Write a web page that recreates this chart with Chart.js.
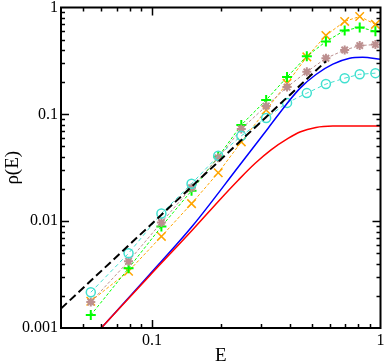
<!DOCTYPE html>
<html>
<head>
<meta charset="utf-8">
<script src="https://cdn.jsdelivr.net/npm/chart.js@4.4.1/dist/chart.umd.min.js"></script>
<style>
  body { margin: 0; background: #fff; }
  #wrap { width: 388px; height: 363px; }
</style>
</head>
<body>
<div id="wrap"><canvas id="rhoChart"></canvas></div>
<script>
// sampled energies of the marker series
const energy = [0.054, 0.079, 0.11, 0.149, 0.195, 0.246, 0.316, 0.39, 0.476, 0.577, 0.697, 0.811, 0.95];
const rhoCircle = [0.00216, 0.0050, 0.0118, 0.0224, 0.0409, 0.0629, 0.0925, 0.128, 0.158, 0.192, 0.218, 0.237, 0.243];
const rhoStar = [0.00175, 0.00421, 0.00972, 0.0206, 0.0392, 0.073, 0.1196, 0.18, 0.25, 0.335, 0.40, 0.44, 0.45];
const rhoPlus = [0.00132, 0.00362, 0.0089, 0.0193, 0.040, 0.0796, 0.136, 0.223, 0.35, 0.48, 0.61, 0.651, 0.60];
const rhoCross = [0.00178, 0.0034, 0.0072, 0.0146, 0.0284, 0.0552, 0.1097, 0.195, 0.345, 0.548, 0.741, 0.824, 0.695];

// E^2 guide line (end points)
const guideE = [0.04, 0.577];
const guideRho = [0.00152, 0.314];

// smooth curves
const blueE = [0.06, 0.097, 0.151, 0.239, 0.323, 0.394, 0.444, 0.522, 0.619, 0.733, 0.835, 1.0];
const blueRho = [0.001, 0.00312, 0.0091, 0.0323, 0.0746, 0.130, 0.175, 0.236, 0.295, 0.335, 0.342, 0.328];
const redE = [0.06, 0.097, 0.151, 0.2015, 0.239, 0.283, 0.332, 0.394, 0.444, 0.522, 0.619, 0.8, 1.0];
const redRho = [0.001, 0.00304, 0.00836, 0.0165, 0.0243, 0.0348, 0.0465, 0.0595, 0.0683, 0.0753, 0.0776, 0.0779, 0.0779];

const xTickVals = [0.1, 1];
const xTickLabels = ['0.1', '1'];
const yTickVals = [0.001, 0.01, 0.1, 1];
const yTickLabels = ['0.001', '0.01', '0.1', '1'];

const pts = (xs, ys) => xs.map((x, i) => ({x: x, y: ys[i]}));
const labelOf = (v, vals, labels) => {
    const i = vals.findIndex(t => Math.abs(v - t) < t * 1e-6);
    return i >= 0 ? labels[i] : '';
};

function markerSet(label, ys, color, style, radius, width, dash) {
    return {
        label: label,
        data: pts(energy, ys),
        borderColor: color,
        backgroundColor: 'rgba(0,0,0,0)',
        borderWidth: 1,
        borderDash: dash,
        pointStyle: style,
        pointRadius: radius,
        pointBorderWidth: width,
        pointBorderColor: color,
        pointBackgroundColor: 'rgba(0,0,0,0)',
        tension: 0
    };
}

// frame and inward ticks on all four sides
const frameTicks = {
    id: 'frameTicks',
    afterDatasetsDraw(chart) {
        const {ctx, chartArea: a, scales} = chart;
        ctx.save();
        ctx.strokeStyle = '#000';
        ctx.lineWidth = 1.5;
        const decades = (min, max) => {
            const out = [];
            for (let d = Math.floor(Math.log10(min)); d <= Math.ceil(Math.log10(max)); d++) {
                for (let k = 1; k <= 9; k++) {
                    const v = k * Math.pow(10, d);
                    if (v > min * 1.0001 && v < max * 0.9999) out.push({v: v, major: k === 1});
                }
            }
            return out;
        };
        ctx.beginPath();
        decades(scales.x.min, scales.x.max).forEach(t => {
            const px = Math.round(scales.x.getPixelForValue(t.v)) + 0.5;
            const len = t.major ? 8 : 4;
            ctx.moveTo(px, a.bottom); ctx.lineTo(px, a.bottom - len);
            ctx.moveTo(px, a.top); ctx.lineTo(px, a.top + len);
        });
        decades(scales.y.min, scales.y.max).forEach(t => {
            const py = Math.round(scales.y.getPixelForValue(t.v)) + 0.5;
            const len = t.major ? 8 : 4;
            ctx.moveTo(a.left, py); ctx.lineTo(a.left + len, py);
            ctx.moveTo(a.right, py); ctx.lineTo(a.right - len, py);
        });
        ctx.stroke();
        ctx.lineWidth = 2;
        ctx.strokeRect(a.left, a.top, a.right - a.left, a.bottom - a.top);
        ctx.restore();
    }
};

const serif = '"Liberation Serif", "DejaVu Serif", serif';

new Chart(document.getElementById('rhoChart'), {
    type: 'line',
    data: {
        datasets: [
            {
                label: 'red',
                data: pts(redE, redRho),
                borderColor: '#ff0000',
                borderWidth: 1.5,
                pointRadius: 0,
                cubicInterpolationMode: 'monotone'
            },
            {
                label: 'blue',
                data: pts(blueE, blueRho),
                borderColor: '#0000ff',
                borderWidth: 1.5,
                pointRadius: 0,
                cubicInterpolationMode: 'monotone'
            },
            {
                label: 'E^2',
                data: pts(guideE, guideRho),
                borderColor: '#000000',
                borderWidth: 2,
                borderDash: [8, 4],
                pointRadius: 0,
                tension: 0
            },
            markerSet('circles', rhoCircle, '#40e0d0', 'circle', 4.5, 1.5, [4, 3]),
            markerSet('stars', rhoStar, '#bc8f8f', 'star', 4.5, 2, [3, 2]),
            markerSet('plus', rhoPlus, '#00ff00', 'cross', 5, 2, [3, 2]),
            markerSet('cross', rhoCross, '#ffa500', 'crossRot', 6, 1.5, [3, 2])
        ]
    },
    options: {
        responsive: true,
        maintainAspectRatio: false,
        animation: false,
        layout: { padding: { top: 6, right: 5, left: 0, bottom: 0 } },
        plugins: {
            legend: { display: false },
            tooltip: { enabled: false }
        },
        scales: {
            x: {
                type: 'logarithmic',
                min: 0.04,
                max: 1,
                grid: { display: false, drawTicks: false },
                border: { display: false },
                ticks: {
                    autoSkip: false,
                    maxRotation: 0,
                    padding: 3,
                    color: '#000',
                    font: { family: serif, size: 16 },
                    callback: v => labelOf(v, xTickVals, xTickLabels)
                },
                title: {
                    display: true,
                    text: 'E',
                    color: '#000',
                    font: { family: serif, size: 19, lineHeight: 0.75 },
                    padding: { top: 0, bottom: 0 }
                },
                afterFit: s => { s.height = 35; s.paddingLeft = 0; s.paddingRight = 0; }
            },
            y: {
                type: 'logarithmic',
                min: 0.001,
                max: 1,
                grid: { display: false, drawTicks: false },
                border: { display: false },
                ticks: {
                    autoSkip: false,
                    padding: 3,
                    color: '#000',
                    font: { family: serif, size: 16 },
                    callback: v => labelOf(v, yTickVals, yTickLabels)
                },
                title: {
                    display: true,
                    text: 'ρ(E)',
                    color: '#000',
                    font: { family: serif, size: 19, lineHeight: 1.2 },
                    padding: { top: 2, bottom: 0 }
                },
                afterFit: s => { s.width = 61; s.paddingTop = 0; s.paddingBottom = 0; }
            }
        }
    },
    plugins: [frameTicks]
});
</script>
</body>
</html>
